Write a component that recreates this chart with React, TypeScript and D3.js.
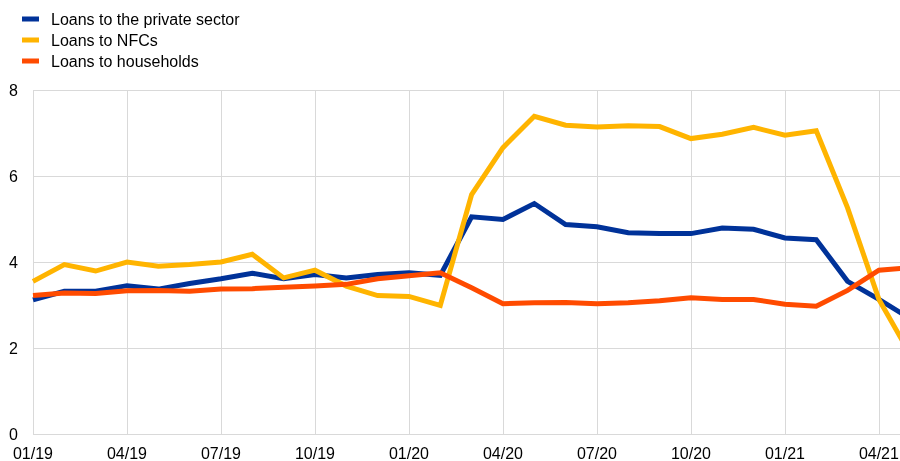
import { useEffect, useRef } from 'react'
import * as d3 from 'd3'

// monthly, 01/19 .. 05/21 (annual growth rates, %)
const months = [
  '01/19', '02/19', '03/19', '04/19', '05/19', '06/19', '07/19', '08/19', '09/19', '10/19',
  '11/19', '12/19', '01/20', '02/20', '03/20', '04/20', '05/20', '06/20', '07/20', '08/20',
  '09/20', '10/20', '11/20', '12/20', '01/21', '02/21', '03/21', '04/21', '05/21',
]
const privateSector = [
  3.12, 3.32, 3.32, 3.45, 3.37, 3.5, 3.61, 3.74, 3.61, 3.71,
  3.63, 3.71, 3.75, 3.69, 5.05, 4.99, 5.36, 4.87, 4.82, 4.68,
  4.66, 4.66, 4.79, 4.76, 4.56, 4.52, 3.55, 3.13, 2.68,
]
const nfcs = [
  3.55, 3.94, 3.79, 4.0, 3.9, 3.94, 4.0, 4.18, 3.63, 3.81,
  3.44, 3.22, 3.2, 2.99, 5.57, 6.66, 7.39, 7.18, 7.14, 7.17,
  7.15, 6.87, 6.97, 7.13, 6.95, 7.05, 5.26, 3.13, 1.85,
]
const households = [
  3.22, 3.28, 3.27, 3.33, 3.34, 3.32, 3.37, 3.38, 3.41, 3.44,
  3.48, 3.61, 3.68, 3.75, 3.4, 3.03, 3.05, 3.06, 3.03, 3.05,
  3.1, 3.17, 3.13, 3.13, 3.02, 2.97, 3.34, 3.81, 3.87,
]
const tickLabels = ['01/19', '04/19', '07/19', '10/19', '01/20', '04/20', '07/20', '10/20', '01/21', '04/21']
const yTicks = [0, 2, 4, 6, 8]

const series = [
  { name: 'Loans to the private sector', values: privateSector, color: '#003299' },
  { name: 'Loans to NFCs', values: nfcs, color: '#FFB400' },
  { name: 'Loans to households', values: households, color: '#FF4B00' },
]

export default function App() {
  const svgRef = useRef<SVGSVGElement>(null)

  useEffect(() => {
    if (!svgRef.current) return
    const svg = d3.select(svgRef.current)
    svg.selectAll('*').remove()

    const W = 900
    const H = 461
    const left = 33
    const top = 90
    const bottom = 434
    const step = 31.33

    const x = d3.scalePoint<string>().domain(months).range([left, left + step * (months.length - 1)])
    const y = d3.scaleLinear().domain([0, 8]).range([bottom, top])

    const font = 'Arial, "Liberation Sans", sans-serif'

    // grid
    svg.append('g').selectAll('line').data(yTicks.slice(1)).join('line')
      .attr('x1', left).attr('x2', W)
      .attr('y1', d => y(d) + 0.5).attr('y2', d => y(d) + 0.5)
      .attr('stroke', '#d9d9d9').attr('stroke-width', 1)
    svg.append('g').selectAll('line').data(tickLabels).join('line')
      .attr('x1', d => Math.round(x(d)!) + 0.5).attr('x2', d => Math.round(x(d)!) + 0.5)
      .attr('y1', top).attr('y2', bottom)
      .attr('stroke', '#d9d9d9').attr('stroke-width', 1)

    // axis line
    svg.append('line')
      .attr('x1', left).attr('x2', W).attr('y1', bottom + 0.5).attr('y2', bottom + 0.5)
      .attr('stroke', '#d9d9d9').attr('stroke-width', 1)

    // y labels
    svg.append('g').selectAll('text').data(yTicks).join('text')
      .attr('x', 18).attr('y', d => y(d)).attr('dy', '0.35em')
      .attr('text-anchor', 'end').attr('font-family', font).attr('font-size', 16).attr('fill', '#000')
      .text(d => d)

    // x labels
    svg.append('g').selectAll('text').data(tickLabels).join('text')
      .attr('x', d => x(d)!).attr('y', 459)
      .attr('text-anchor', 'middle').attr('font-family', font).attr('font-size', 16).attr('fill', '#000')
      .text(d => d)

    // lines
    const line = d3.line<number>()
      .x((_, i) => x(months[i])!)
      .y(d => y(d))

    series.forEach(s => {
      svg.append('path')
        .datum(s.values)
        .attr('fill', 'none')
        .attr('stroke', s.color)
        .attr('stroke-width', 5)
        .attr('d', line)
    })

    // legend
    const lg = svg.append('g').selectAll('g').data(series).join('g')
      .attr('transform', (_, i) => `translate(0,${19 + i * 21})`)
    lg.append('rect').attr('x', 22).attr('y', -2.5).attr('width', 17).attr('height', 5)
      .attr('fill', d => d.color)
    lg.append('text').attr('x', 51).attr('y', 0).attr('dy', '0.35em')
      .attr('font-family', font).attr('font-size', 16).attr('fill', '#000')
      .text(d => d.name)
  }, [])

  return (
    <div style={{ position: 'fixed', left: 0, top: 0 }}>
      <svg ref={svgRef} width={900} height={461} style={{ display: 'block', overflow: 'hidden' }} />
    </div>
  )
}
